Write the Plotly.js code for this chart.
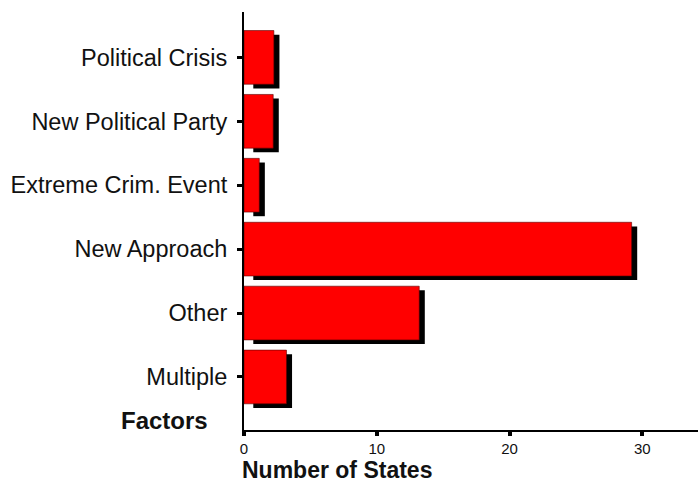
<!DOCTYPE html>
<html>
<head>
<meta charset="utf-8">
<script src="https://cdn.plot.ly/plotly-3.0.1.min.js"></script>
<style>html,body{margin:0;padding:0;background:#fff;}#chart{width:698px;height:482px;}</style>
</head>
<body>
<div id="chart"></div>
<script>
// Data (bottom to top)
var factors = ["Multiple", "Other", "New Approach", "Extreme Crim. Event", "New Political Party", "Political Crisis"];
var numberOfStates = [3.2, 13.2, 29.2, 1.15, 2.2, 2.25];
var xTickValues = [0, 10, 20, 30];
var xTickLabels = ["0", "10", "20", "30"];

var shadowBase = 0.7;
var shadowExtra = 0.42;
var shadowLength = numberOfStates.map(function (v) { return v + shadowExtra - shadowBase; });

var barWidth = 0.84;

var shadow = {
  type: "bar", orientation: "h",
  y: factors, x: shadowLength, base: shadowBase,
  width: barWidth, offset: -barWidth / 2 - 0.065,
  marker: { color: "#000000", line: { width: 0 } },
  hoverinfo: "skip", showlegend: false
};
var bars = {
  type: "bar", orientation: "h",
  y: factors, x: numberOfStates,
  width: barWidth,
  marker: { color: "#ff0000", line: { color: "#5a0000", width: 0.6 } },
  showlegend: false
};

var layout = {
  width: 698, height: 482,
  margin: { l: 244, r: 0, t: 12, b: 52, pad: 0 },
  paper_bgcolor: "#ffffff", plot_bgcolor: "#ffffff",
  barmode: "overlay",
  showlegend: false,
  font: { family: "Liberation Sans, Arial, sans-serif", color: "#111111" },
  xaxis: {
    range: [0, 34.2], showgrid: false, zeroline: false,
    showline: true, linecolor: "#000000", linewidth: 2,
    tickmode: "array", tickvals: xTickValues, ticktext: xTickLabels,
    ticks: "outside", ticklen: 4, tickwidth: 4, tickcolor: "#000000",
    tickfont: { size: 15, color: "#111111" }, ticklabelstandoff: 0
  },
  yaxis: {
    type: "category", categoryorder: "array", categoryarray: factors,
    range: [-0.83, 5.71], showgrid: false, zeroline: false,
    showline: true, linecolor: "#000000", linewidth: 2,
    ticks: "outside", ticklen: 5, tickwidth: 3, tickcolor: "#000000",
    tickfont: { size: 23.5, color: "#111111" }, ticklabelstandoff: 5
  },
  annotations: [
    { text: "<b>Number of States</b>", xref: "paper", yref: "paper",
      x: -4 / 454, y: -40 / 418, xanchor: "left", yanchor: "middle", showarrow: false,
      font: { size: 23, color: "#111111" } },
    { text: "<b>Factors</b>", xref: "paper", yref: "paper",
      x: -125 / 454, y: 10 / 418, xanchor: "left", yanchor: "middle", showarrow: false,
      font: { size: 24, color: "#111111" } }
  ]
};

Plotly.newPlot("chart", [shadow, bars], layout, { displayModeBar: false, staticPlot: true });
</script>
</body>
</html>
